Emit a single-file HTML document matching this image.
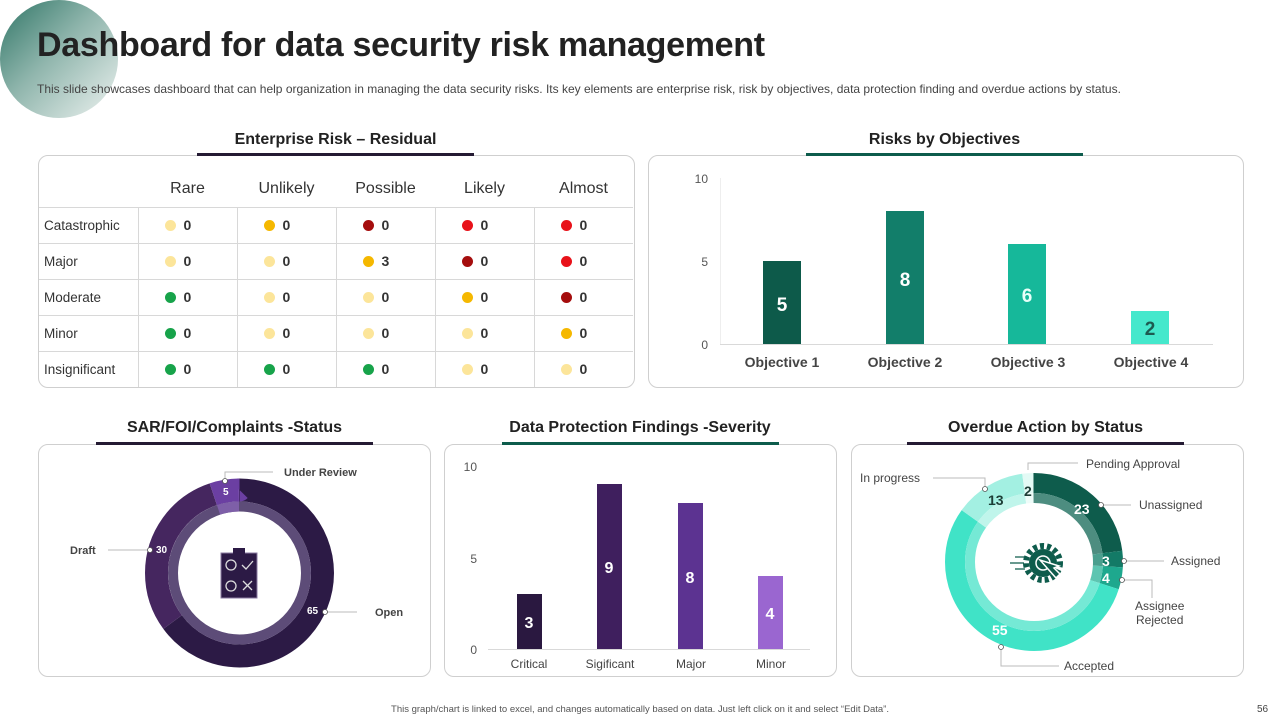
<!DOCTYPE html>
<html><head><meta charset="utf-8"><style>
body{margin:0;width:1280px;height:720px;background:#fff;font-family:"Liberation Sans",Arial,sans-serif;position:relative;overflow:hidden}
.a{position:absolute}
.box{position:absolute;border:1px solid #cfcfcf;border-radius:10px;background:#fff}
.t{position:absolute;font-weight:bold;font-size:16px;color:#222;text-align:center}
.ul{position:absolute;height:3px}
table{border-collapse:collapse;position:absolute;left:39px;top:172px;width:594px;table-layout:fixed;font-size:14px;color:#333}
td{border:1px solid #d8d8d8;height:36px;padding:0;box-sizing:border-box;white-space:nowrap;overflow:hidden}
tr:first-child td{border:none;border-bottom:1px solid #d8d8d8;font-size:16px;text-align:center;color:#333;height:35px}
td.l{padding-left:5px;border-left:none;font-size:13.5px}
td.c{font-weight:bold;padding-left:26px;font-size:14px}
.d{display:inline-block;width:11px;height:11px;border-radius:50%;margin-right:8px;vertical-align:-1px}
.y{background:#fce59a}.o{background:#f5b800}.r{background:#e8121a}.dr{background:#a50d0d}.g{background:#17a34a}
tr td:last-child{border-right:none}
tr:last-child td{border-bottom:none}
</style></head><body>
<div class="a" style="left:0;top:0;width:118px;height:118px;border-radius:50%;background:linear-gradient(135deg,#2f7566 0%,#8fb5ac 45%,#eef3f1 100%)"></div>
<div class="a" style="left:37px;top:26px;font-size:34px;font-weight:bold;color:#222;letter-spacing:-0.3px">Dashboard for data security risk management</div>
<div class="a" style="left:37px;top:82px;font-size:12px;color:#444">This slide showcases dashboard that can help organization in managing the data security risks. Its key elements are enterprise risk, risk by objectives, data protection finding and overdue actions by status.</div>

<div class="t" style="left:197px;top:131px;width:277px">Enterprise Risk – Residual</div>
<div class="box" style="left:38px;top:155px;width:595px;height:231px"></div>
<div class="ul" style="left:197px;top:153px;width:277px;background:#241a33"></div>
<table>
<colgroup><col style="width:99px"><col style="width:99px"><col style="width:99px"><col style="width:99px"><col style="width:99px"><col style="width:99px"></colgroup>
<tr><td></td><td>Rare</td><td>Unlikely</td><td>Possible</td><td>Likely</td><td>Almost</td></tr>
<tr><td class="l">Catastrophic</td><td class="c"><span class="d y"></span>0</td><td class="c"><span class="d o"></span>0</td><td class="c"><span class="d dr"></span>0</td><td class="c"><span class="d r"></span>0</td><td class="c"><span class="d r"></span>0</td></tr>
<tr><td class="l">Major</td><td class="c"><span class="d y"></span>0</td><td class="c"><span class="d y"></span>0</td><td class="c"><span class="d o"></span>3</td><td class="c"><span class="d dr"></span>0</td><td class="c"><span class="d r"></span>0</td></tr>
<tr><td class="l">Moderate</td><td class="c"><span class="d g"></span>0</td><td class="c"><span class="d y"></span>0</td><td class="c"><span class="d y"></span>0</td><td class="c"><span class="d o"></span>0</td><td class="c"><span class="d dr"></span>0</td></tr>
<tr><td class="l">Minor</td><td class="c"><span class="d g"></span>0</td><td class="c"><span class="d y"></span>0</td><td class="c"><span class="d y"></span>0</td><td class="c"><span class="d y"></span>0</td><td class="c"><span class="d o"></span>0</td></tr>
<tr><td class="l">Insignificant</td><td class="c"><span class="d g"></span>0</td><td class="c"><span class="d g"></span>0</td><td class="c"><span class="d g"></span>0</td><td class="c"><span class="d y"></span>0</td><td class="c"><span class="d y"></span>0</td></tr>
</table>

<div class="t" style="left:806px;top:131px;width:277px">Risks by Objectives</div>
<div class="box" style="left:648px;top:155px;width:594px;height:231px"></div>
<div class="ul" style="left:806px;top:153px;width:277px;background:#0d5c4c"></div>

<div class="t" style="left:96px;top:419px;width:277px">SAR/FOI/Complaints -Status</div>
<div class="box" style="left:38px;top:444px;width:391px;height:231px"></div>
<div class="ul" style="left:96px;top:442px;width:277px;background:#241a33"></div>

<div class="t" style="left:500px;top:419px;width:280px">Data Protection Findings -Severity</div>
<div class="box" style="left:444px;top:444px;width:391px;height:231px"></div>
<div class="ul" style="left:502px;top:442px;width:277px;background:#0d5c4c"></div>

<div class="t" style="left:907px;top:419px;width:277px">Overdue Action by Status</div>
<div class="box" style="left:851px;top:444px;width:391px;height:231px"></div>
<div class="ul" style="left:907px;top:442px;width:277px;background:#241a33"></div>

<svg class="a" style="left:0;top:0" width="1280" height="720" font-family="Liberation Sans, Arial, sans-serif">
<g font-size="12" fill="#555" text-anchor="end"><text x="708" y="183">10</text><text x="708" y="266">5</text><text x="708" y="349">0</text></g>
<line x1="720" y1="344.5" x2="1213" y2="344.5" stroke="#d9d9d9"/>
<line x1="720.5" y1="178" x2="720.5" y2="344" stroke="#eee"/>
<rect x="763" y="261" width="38" height="83" fill="#0d5a4a"/>
<rect x="886" y="211" width="38" height="133" fill="#127e6a"/>
<rect x="1008" y="244" width="38" height="100" fill="#16b89a"/>
<rect x="1131" y="311" width="38" height="33" fill="#45e8cc"/>
<g font-size="19" font-weight="bold" text-anchor="middle"><text x="782" y="311" fill="#fff">5</text><text x="905" y="286" fill="#fff">8</text><text x="1027" y="302" fill="#e8fff9">6</text><text x="1150" y="335" fill="#1d5a50">2</text></g>
<g font-size="14" font-weight="bold" fill="#444" text-anchor="middle"><text x="782" y="367">Objective 1</text><text x="905" y="367">Objective 2</text><text x="1028" y="367">Objective 3</text><text x="1151" y="367">Objective 4</text></g>

<g font-size="12" fill="#555" text-anchor="end"><text x="477" y="471">10</text><text x="477" y="563">5</text><text x="477" y="654">0</text></g>
<line x1="488" y1="649.5" x2="810" y2="649.5" stroke="#d9d9d9"/>
<rect x="517" y="594" width="25" height="55" fill="#2a1840"/>
<rect x="597" y="484" width="25" height="165" fill="#3f1f5e"/>
<rect x="678" y="503" width="25" height="146" fill="#5c3391"/>
<rect x="758" y="576" width="25" height="73" fill="#9a66d0"/>
<g font-size="16" font-weight="bold" fill="#fff" text-anchor="middle"><text x="529" y="628">3</text><text x="609" y="573">9</text><text x="690" y="583">8</text><text x="770" y="619">4</text></g>
<g font-size="12" fill="#444" text-anchor="middle"><text x="529" y="668">Critical</text><text x="610" y="668">Sigificant</text><text x="691" y="668">Major</text><text x="771" y="668">Minor</text></g>

<g transform="translate(239.5 573) rotate(-90)">
<circle r="83" fill="none" stroke="#2c1a45" stroke-width="23" pathLength="100" stroke-dasharray="65 35"/>
<circle r="83" fill="none" stroke="#45265f" stroke-width="23" pathLength="100" stroke-dasharray="30 70" stroke-dashoffset="-65"/>
<circle r="83" fill="none" stroke="#6b3fa2" stroke-width="23" pathLength="100" stroke-dasharray="5 95" stroke-dashoffset="-95"/>
<circle r="66.5" fill="none" stroke="#5d4c78" stroke-width="10"/>
<circle r="66.5" fill="none" stroke="#7e5fa8" stroke-width="10" pathLength="100" stroke-dasharray="5 95" stroke-dashoffset="-95"/>
</g>
<rect x="221" y="553" width="36" height="45" fill="#2c1a45" stroke="#8a7aa0"/>
<rect x="233" y="548" width="12" height="6" fill="#2c1a45"/>
<g stroke="#ddd" stroke-width="1.3" fill="none"><circle cx="231" cy="565" r="5"/><circle cx="231" cy="586" r="5"/><path d="M242 565l4 4 7-8M243 581l9 9M252 581l-9 9"/></g>
<g stroke="#bbb" fill="none"><path d="M225 480v-8h48"/><path d="M108 550h42"/><path d="M325 612h32"/></g>
<g fill="#fff" stroke="#555" stroke-width="0.8"><circle cx="225" cy="481" r="2.5"/><circle cx="150" cy="550" r="2.5"/><circle cx="325" cy="612" r="2.5"/></g>
<g font-size="10" font-weight="bold" fill="#fff"><text x="223" y="495">5</text><text x="156" y="553">30</text><text x="307" y="614">65</text></g>
<g font-size="11" font-weight="bold" fill="#444"><text x="284" y="476">Under Review</text><text x="70" y="554">Draft</text><text x="375" y="616">Open</text></g>

<g transform="translate(1034 562) rotate(-90)">
<circle r="79" fill="none" stroke="#0e5c4c" stroke-width="20" pathLength="100" stroke-dasharray="23 77"/>
<circle r="79" fill="none" stroke="#137a66" stroke-width="20" pathLength="100" stroke-dasharray="3 97" stroke-dashoffset="-23"/>
<circle r="79" fill="none" stroke="#1ea88e" stroke-width="20" pathLength="100" stroke-dasharray="4 96" stroke-dashoffset="-26"/>
<circle r="79" fill="none" stroke="#40e3c7" stroke-width="20" pathLength="100" stroke-dasharray="55 45" stroke-dashoffset="-30"/>
<circle r="79" fill="none" stroke="#a3f0e2" stroke-width="20" pathLength="100" stroke-dasharray="13 87" stroke-dashoffset="-85"/>
<circle r="79" fill="none" stroke="#e3faf5" stroke-width="20" pathLength="100" stroke-dasharray="2 98" stroke-dashoffset="-98"/>
<circle r="64" fill="none" stroke="#4d8d80" stroke-width="10" pathLength="100" stroke-dasharray="23 77"/>
<circle r="64" fill="none" stroke="#4a9f8e" stroke-width="10" pathLength="100" stroke-dasharray="3 97" stroke-dashoffset="-23"/>
<circle r="64" fill="none" stroke="#5dc5b1" stroke-width="10" pathLength="100" stroke-dasharray="4 96" stroke-dashoffset="-26"/>
<circle r="64" fill="none" stroke="#75e9d5" stroke-width="10" pathLength="100" stroke-dasharray="55 45" stroke-dashoffset="-30"/>
<circle r="64" fill="none" stroke="#c0f5eb" stroke-width="10" pathLength="100" stroke-dasharray="13 87" stroke-dashoffset="-85"/>
<circle r="64" fill="none" stroke="#eefcf9" stroke-width="10" pathLength="100" stroke-dasharray="2 98" stroke-dashoffset="-98"/>
</g>
<circle cx="1043" cy="563" r="17" fill="none" stroke="#0e5c4c" stroke-width="6" stroke-dasharray="4 3"/>
<circle cx="1043" cy="563" r="14" fill="#0e5c4c"/>
<circle cx="1043" cy="563" r="7" fill="none" stroke="#fff" stroke-width="1.5"/>
<path d="M1040 560l16 18 4-4-6-6 5-2z" fill="#0e5c4c" stroke="#fff" stroke-width="1.5"/>
<g stroke="#0e5c4c" stroke-width="1.3"><path d="M1015 557h12M1010 563h14M1015 569h10"/></g>
<g stroke="#bbb" fill="none"><path d="M1028 470v-7h50"/><path d="M985 488v-10h-52"/><path d="M1101 505h30"/><path d="M1124 561h40"/><path d="M1122 580h30v18"/><path d="M1001 647v19h58"/></g>
<g fill="#fff" stroke="#555" stroke-width="0.8"><circle cx="985" cy="489" r="2.5"/><circle cx="1101" cy="505" r="2.5"/><circle cx="1124" cy="561" r="2.5"/><circle cx="1122" cy="580" r="2.5"/><circle cx="1001" cy="647" r="2.5"/></g>
<g font-size="14" font-weight="bold"><text x="1024" y="496" fill="#1d3d36">2</text><text x="988" y="505" fill="#1d3d36">13</text><text x="1074" y="514" fill="#fff">23</text><text x="1102" y="566" fill="#fff">3</text><text x="1102" y="583" fill="#fff">4</text><text x="992" y="635" fill="#fff">55</text></g>
<g font-size="12" fill="#444"><text x="1086" y="468">Pending Approval</text><text x="860" y="482">In progress</text><text x="1139" y="509">Unassigned</text><text x="1171" y="565">Assigned</text><text x="1135" y="610">Assignee</text><text x="1136" y="624">Rejected</text><text x="1064" y="670">Accepted</text></g>

<text x="640" y="712" font-size="9.5" fill="#555" text-anchor="middle">This graph/chart is linked to excel, and changes automatically based on data. Just left click on it and select “Edit Data”.</text>
<text x="1257" y="712" font-size="10" fill="#444">56</text>
</svg>
</body></html>
